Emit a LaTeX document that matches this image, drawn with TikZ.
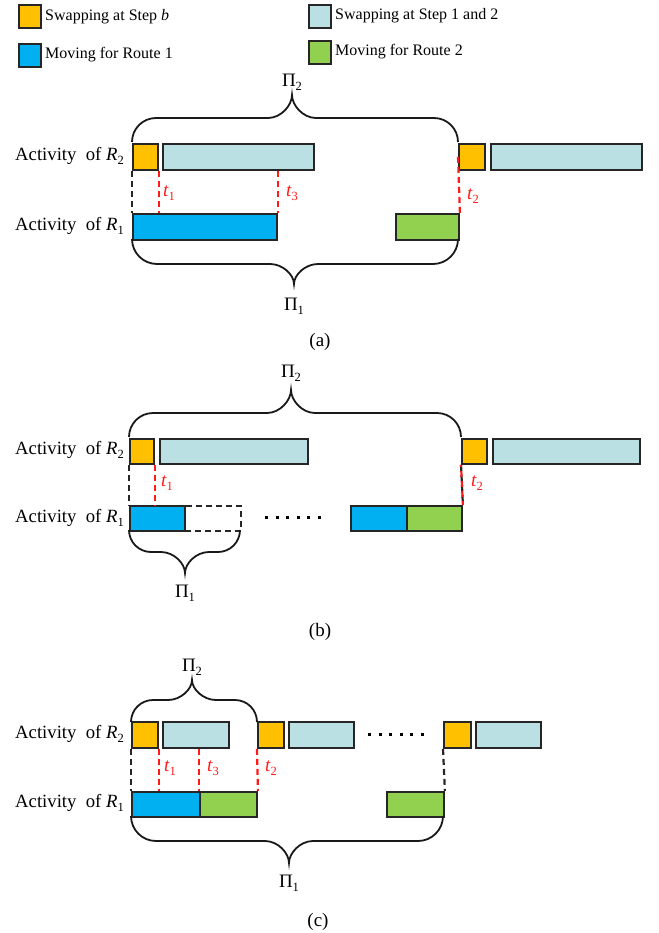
\documentclass[tikz,border=0pt]{standalone}
\usepackage{fontspec}
\setmainfont{Liberation Serif}
\definecolor{cOrange}{HTML}{FFC000}
\definecolor{cLight}{HTML}{BBE0E3}
\definecolor{cBlue}{HTML}{00B0F0}
\definecolor{cGreen}{HTML}{92D050}
\definecolor{cRed}{HTML}{FF1A1A}
\definecolor{cEdge}{HTML}{262626}
\newcommand{\Rsub}[1]{\textit{R}\raisebox{-0.45ex}{\fontsize{12.5}{13}\selectfont #1}}
\newcommand{\tsub}[1]{\textit{t}\raisebox{-0.45ex}{\fontsize{12.5}{13}\selectfont #1}}
\newcommand{\Pisub}[1]{Π\raisebox{-0.45ex}{\fontsize{12.5}{13}\selectfont #1}}
% brace: x1, x2, ends y, bar y, tip x, tip y
\newcommand{\mybrace}[6]{%
\draw[bracestyle] (#1,#3) .. controls (#1,{#4+0.448*(#3-#4)}) and ({#1+0.448*abs(#3-#4)},#4) .. ({#1+abs(#3-#4)},#4)
 -- ({#5-24},#4) .. controls ({#5-11},#4) and (#5,{#6+0.45*(#4-#6)}) .. (#5,#6)
 .. controls (#5,{#6+0.45*(#4-#6)}) and ({#5+11},#4) .. ({#5+24},#4)
 -- ({#2-abs(#3-#4)},#4) .. controls ({#2-0.448*abs(#3-#4)},#4) and (#2,{#4+0.448*(#3-#4)}) .. (#2,#3);}
\tikzset{
  bx/.style={draw=cEdge, line width=1.9pt, inner sep=0pt, anchor=north west, minimum height=25pt},
  ob/.style={bx, fill=cOrange},
  lb/.style={bx, fill=cLight},
  bb/.style={bx, fill=cBlue},
  gb/.style={bx, fill=cGreen},
  dashbox/.style={bx, dash pattern=on 6pt off 4pt},
  bracestyle/.style={draw=black!90, line width=1.8pt},
  reddash/.style={draw=cRed, line width=2.2pt, dash pattern=on 6pt off 4pt},
  blackdash/.style={draw=cEdge, line width=2.2pt, dash pattern=on 6pt off 4pt},
  lab/.style={font=\fontsize{18.7}{21}\selectfont, inner sep=0pt, anchor=east},
  leg/.style={font=\fontsize{16}{18}\selectfont, inner sep=0pt, anchor=west},
  tl/.style={font=\fontsize{19}{21}\selectfont, text=cRed, inner sep=0pt},
  pil/.style={font=\fontsize{19}{21}\selectfont, inner sep=0pt},
  captext/.style={font=\fontsize{19}{21}\selectfont, inner sep=0pt},
  dotrow/.style={draw=black, line width=3pt, dash pattern=on 3pt off 7.6pt},
}
\begin{document}
\begin{tikzpicture}[x=1pt,y=-1pt]
\useasboundingbox (0,0) rectangle (658,933);
% legend
\node[ob, minimum width=22pt, minimum height=23pt] (lg1) at (18,4) {};
\node[leg] (lg1t) at (45,17) {Swapping at Step \textit{b}};
\node[bb, minimum width=22pt, minimum height=23pt] (lg2) at (18,43) {};
\node[leg] (lg2t) at (45,55) {Moving for Route 1};
\node[lb, minimum width=22pt, minimum height=23pt] (lg3) at (308,4) {};
\node[leg] (lg3t) at (335,16) {Swapping at Step 1 and 2};
\node[gb, minimum width=22pt, minimum height=23pt] (lg4) at (308,40) {};
\node[leg] (lg4t) at (335,52) {Moving for Route 2};

% ---------- panel (a)
\node[lab] (aR2) at (124,156) {Activity~~of \Rsub{2}};
\node[lab] (aR1) at (124,226) {Activity~~of \Rsub{1}};
\node[ob, minimum width=25pt, minimum height=26pt] (o1) at (132,143) {};
\node[lb, minimum width=151pt, minimum height=26pt] (lb1) at (162,143) {};
\node[ob, minimum width=26pt, minimum height=26pt] (o2) at (458,143) {};
\node[lb, minimum width=151pt, minimum height=26pt] (lb2) at (490,143) {};
\node[bb, minimum width=144pt, minimum height=26pt] (b1) at (132,213) {};
\node[gb, minimum width=63pt, minimum height=26pt] (g1) at (395,213) {};
\draw[blackdash] (o1.south west) -- (b1.north west);
\draw[reddash] (o1.south east) -- (o1.south east |- b1.north);
\draw[reddash] (b1.north east |- lb1.south) -- (b1.north east);
\draw[reddash] (o2.west) -- (g1.north east);
\node[tl] (at1) at (169,193) {\tsub{1}};
\node[tl] (at3) at (292,193) {\tsub{3}};
\node[tl] (at2) at (473,196) {\tsub{2}};
\mybrace{132}{458}{142}{118}{292}{95}
\node[pil] (aP2) at (292,82) {\Pisub{2}};
\mybrace{132}{458}{239}{264}{294}{284}
\node[pil] (aP1) at (294,306) {\Pisub{1}};
\node[captext] (capa) at (320,342) {(a)};

% ---------- panel (b)
\node[lab] (bR2) at (124,450) {Activity~~of \Rsub{2}};
\node[lab] (bR1) at (124,518) {Activity~~of \Rsub{1}};
\node[ob, minimum width=24pt] (o3) at (129,438) {};
\node[lb, minimum width=148pt] (lb3) at (159,438) {};
\node[ob, minimum width=25pt] (o4) at (461,438) {};
\node[lb, minimum width=147pt] (lb4) at (492,438) {};
\node[bb, minimum width=55pt] (b2) at (129,505) {};
\node[dashbox, minimum width=56pt] (db) at (184,505) {};
\node[bb, minimum width=56pt] (b3) at (350,505) {};
\node[gb, minimum width=55pt] (g2) at (406,505) {};
\draw[blackdash] (o3.south west) -- (b2.north west);
\draw[reddash] (o3.south east) -- (o3.south east |- b2.north);
\draw[blackdash] (o4.south west) -- (g2.north east);
\draw[reddash, dash phase=4pt] (o4.south west) -- (g2.north east);
\node[tl] (bt1) at (167,483) {\tsub{1}};
\node[tl] (bt2) at (477,483) {\tsub{2}};
\draw[dotrow] (265,517) -- (321,517);
\mybrace{129}{461}{437}{413}{291}{390}
\node[pil] (bP2) at (291,373) {\Pisub{2}};
\mybrace{129}{240}{530}{552}{185}{573}
\node[pil] (bP1) at (185,593) {\Pisub{1}};
\node[captext] (capb) at (320,632) {(b)};

% ---------- panel (c)
\node[lab] (cR2) at (124,734) {Activity~~of \Rsub{2}};
\node[lab] (cR1) at (124,803) {Activity~~of \Rsub{1}};
\node[ob, minimum width=26pt, minimum height=26pt] (o5) at (131,721) {};
\node[lb, minimum width=66pt, minimum height=26pt] (lb5) at (162,721) {};
\node[ob, minimum width=26pt, minimum height=26pt] (o6) at (257,721) {};
\node[lb, minimum width=65pt, minimum height=26pt] (lb6) at (288,721) {};
\node[ob, minimum width=27pt, minimum height=26pt] (o7) at (443,721) {};
\node[lb, minimum width=65pt, minimum height=26pt] (lb7) at (475,721) {};
\node[bb, minimum width=68pt] (b4) at (131,791) {};
\node[gb, minimum width=57pt] (g3) at (199,791) {};
\node[gb, minimum width=57pt] (g4) at (386,791) {};
\draw[dotrow] (368,734) -- (424,734);
\draw[blackdash] (o5.south west) -- (b4.north west);
\draw[reddash] (o5.south east) -- (o5.south east |- b4.north);
\draw[reddash] (g3.north west |- lb5.south) -- (g3.north west);
\draw[reddash] (o6.south west) -- (g3.north east);
\draw[blackdash] (o7.south west) -- (g4.north east);
\node[tl] (ct1) at (170,768) {\tsub{1}};
\node[tl] (ct3) at (213,768) {\tsub{3}};
\node[tl] (ct2) at (271,768) {\tsub{2}};
\mybrace{131}{257}{722}{700}{192}{680}
\node[pil] (cP2) at (192,667) {\Pisub{2}};
\mybrace{131}{443}{816}{841}{289}{863}
\node[pil] (cP1) at (289,883) {\Pisub{1}};
\node[captext] (capc) at (318,922) {(c)};
\end{tikzpicture}
\end{document}
